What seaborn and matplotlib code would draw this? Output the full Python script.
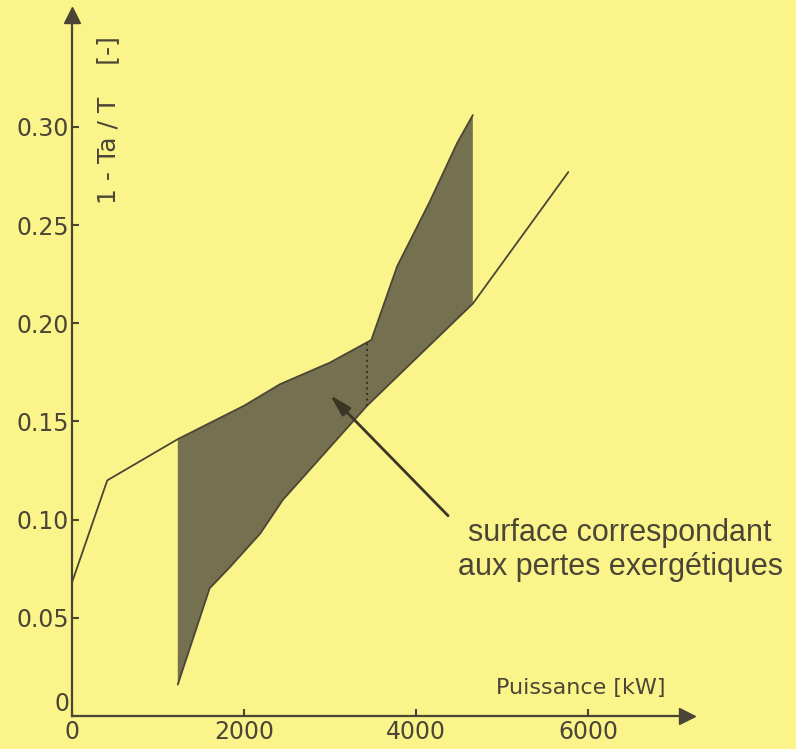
import numpy as np
import matplotlib
matplotlib.use("Agg")
import matplotlib.pyplot as plt
import seaborn as sns

# composite curves (x in kW, y = 1 - Ta/T)
hot_x = [0, 410, 1230, 2000, 2420, 3000, 3480, 3780, 4160, 4480, 4660]
hot_y = [0.068, 0.120, 0.141, 0.158, 0.169, 0.180, 0.1915, 0.229, 0.262, 0.292, 0.306]
cold_x = [1230, 1600, 1840, 2190, 2450, 3430, 4660, 5770]
cold_y = [0.016, 0.065, 0.076, 0.093, 0.110, 0.158, 0.210, 0.277]

# shaded zone limits and the dotted split inside it
shade_start = 1230
shade_end = 4660
split_x = 3430
split_lo = 0.158
split_hi = 0.190

x_ticks = [0, 2000, 4000, 6000]
y_ticks = [0, 0.05, 0.10, 0.15, 0.20, 0.25, 0.30]
y_ticklabels = ["0", "0.05", "0.10", "0.15", "0.20", "0.25", "0.30"]

bg = "#fbf48a"
ink = "#4a4535"

sns.set_style("ticks")
plt.rcParams["font.family"] = ["DejaVu Sans"]

fig = plt.figure(figsize=(7.96, 7.49), dpi=100, facecolor=bg)
ax = fig.add_axes([72 / 796, 1 - 716 / 749, 615 / 796, 701 / 749])
ax.set_facecolor(bg)

# shaded area between the two curves
hx = np.array(hot_x)
hy = np.array(hot_y)
cx = np.array(cold_x)
cy = np.array(cold_y)
hm = (hx >= shade_start) & (hx <= shade_end)
cm = (cx >= shade_start) & (cx <= shade_end)
poly_x = np.concatenate([hx[hm], cx[cm][::-1]])
poly_y = np.concatenate([hy[hm], cy[cm][::-1]])
ax.fill(poly_x, poly_y, color="#747050", lw=0, zorder=2)

sns.lineplot(x=hot_x, y=hot_y, ax=ax, color=ink, lw=1.3, sort=False, estimator=None, zorder=3)
sns.lineplot(x=cold_x, y=cold_y, ax=ax, color=ink, lw=1.3, sort=False, estimator=None, zorder=3)
ax.vlines(split_x, split_lo, split_hi, colors="#3a3525", linestyles=":", lw=1.5, zorder=4)

ax.set_xlim(0, 7150)
ax.set_ylim(0, 0.357)

for s in ["top", "right"]:
    ax.spines[s].set_visible(False)
for s in ["left", "bottom"]:
    ax.spines[s].set_color(ink)
    ax.spines[s].set_linewidth(1.6)

# axis arrows
ax.plot(1, 0, ">", color=ink, ms=11, transform=ax.get_yaxis_transform(), clip_on=False)
ax.plot(0, 1, "^", color=ink, ms=11, transform=ax.get_xaxis_transform(), clip_on=False)

ax.set_xticks(x_ticks)
ax.set_xticklabels([str(v) for v in x_ticks])
ax.set_yticks(y_ticks)
ax.set_yticklabels(y_ticklabels)
ax.tick_params(direction="in", length=5, width=1.5, colors=ink, labelsize=17, pad=3)
ax.tick_params(axis="y", pad=2)
# the y "0" sits a little above the axis, clear of the x "0"
ax.get_yticklabels()[0].set_va("bottom")

ax.text(419, 0.3036, "1 - Ta / T    [-]", rotation=90, ha="center", va="center",
        fontsize=18, color=ink)
ax.text(5919, 0.0143, "Puissance [kW]", ha="center", va="center", fontsize=16, color=ink)

# arrow pointing into the shaded area, then its caption
ax.annotate("", xy=(3000, 0.1635), xytext=(4372, 0.102),
            arrowprops=dict(arrowstyle="-|>,head_length=1.3,head_width=0.35",
                            color="#3a3525", lw=2, shrinkA=0, shrinkB=0))
ax.text(6372, 0.0846, "surface correspondant\naux pertes exergétiques",
        ha="center", va="center", fontsize=22, color=ink,
        family=["Liberation Sans", "DejaVu Sans"])

fig.savefig("out.png", dpi=100, facecolor=bg)
